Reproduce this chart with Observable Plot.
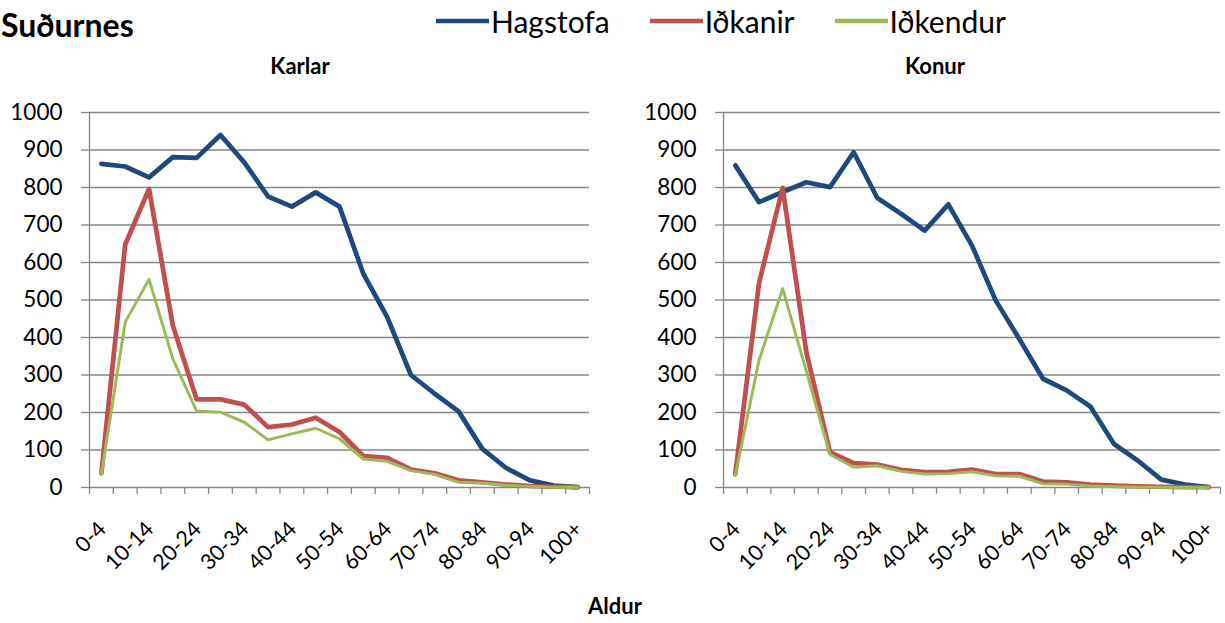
<!DOCTYPE html>
<html>
<head>
<meta charset="utf-8">
<script src="https://cdn.jsdelivr.net/npm/d3@7"></script>
<script src="https://cdn.jsdelivr.net/npm/@observablehq/plot@0.6"></script>
<style>
  html, body { margin: 0; padding: 0; background: #fff; }
  #root { position: relative; width: 1225px; height: 623px; font-family: Lato, "Open Sans", sans-serif; color: #000; overflow: hidden; }
  .abs { position: absolute; }
  .title { left: 1px; top: 5px; font-size: 32px; font-weight: bold; }
  .ptitle { top: 52px; font-size: 22px; font-weight: bold; transform: translateX(-50%); }
  .xlabel { top: 592px; left: 615px; transform: translateX(-50%); font-size: 22px; font-weight: bold; }
  .legend { top: 3px; left: 436px; display: flex; align-items: center; font-size: 30px; }
  .legend .item { display: flex; align-items: center; margin-right: 40px; }
  .legend svg { margin-right: 2px; }
</style>
</head>
<body>
<div id="root">
  <div class="abs title">Suðurnes</div>
  <div class="abs legend" id="legend"></div>
  <div class="abs ptitle" style="left:300px">Karlar</div>
  <div class="abs ptitle" style="left:935px">Konur</div>
  <div class="abs" id="left" style="left:0;top:90px"></div>
  <div class="abs" id="right" style="left:620px;top:90px"></div>
  <div class="abs xlabel">Aldur</div>
</div>
<script>
// Categories (age groups)
const ageGroups = ["0-4","5-9","10-14","15-19","20-24","25-29","30-34","35-39","40-44","45-49","50-54","55-59","60-64","65-69","70-74","75-79","80-84","85-89","90-94","95-99","100+"];
const seriesNames = ["Hagstofa", "Iðkanir", "Iðkendur"];
const seriesColors = ["#1F497D", "#C0504D", "#9BBB59"];
const seriesWidths = [4.75, 4.75, 3];
const yTicks = [0,100,200,300,400,500,600,700,800,900,1000];

// Karlar
const karlarHagstofa = [863,856,827,881,879,940,867,776,749,787,749,570,455,300,250,203,103,52,19,5,1];
const karlarIdkanir  = [38,648,796,432,235,235,221,161,168,186,148,84,79,48,38,19,14,8,4,2,1];
const karlarIdkendur = [36,441,555,343,204,201,174,127,143,158,130,76,70,45,35,14,12,6,3,1,1];

// Konur
const konurHagstofa = [859,761,788,814,801,894,772,730,685,755,645,499,396,290,259,216,116,72,21,8,1];
const konurIdkanir  = [36,545,799,361,94,65,61,47,41,42,48,36,36,16,14,8,5,3,2,1,1];
const konurIdkendur = [32,339,530,310,88,54,58,43,36,37,42,31,30,10,9,4,2,1,1,0,0];

// Legend
const legend = document.getElementById("legend");
seriesNames.forEach((name, k) => {
  const item = document.createElement("div");
  item.className = "item";
  item.innerHTML = `<svg width="53" height="10"><line x1="0" x2="53" y1="5" y2="5" stroke="${seriesColors[k]}" stroke-width="4.5"/></svg><span>${name}</span>`;
  legend.appendChild(item);
});

function panel(seriesValues, opts) {
  const rows = [];
  seriesValues.forEach((vals, k) => vals.forEach((v, i) => rows.push({s: seriesNames[k], k, i, v})));
  const bounds = ageGroups.map((_, i) => i - 0.5).concat([ageGroups.length - 0.5]);
  const labelIdx = ageGroups.map((_, i) => i).filter(i => i % 2 === 0);
  const grid = "#868686";
  return Plot.plot({
    width: opts.width,
    height: 480,
    marginLeft: opts.marginLeft,
    marginRight: opts.marginRight,
    marginTop: 22,
    marginBottom: 83,
    style: {fontFamily: "Lato, 'Open Sans', sans-serif", fontSize: "22px", color: "#000", background: "transparent", overflow: "visible"},
    x: {type: "linear", domain: [-0.5, ageGroups.length - 0.5], axis: null},
    y: {domain: [0, 1000], axis: null},
    marks: [
      Plot.gridY(yTicks, {stroke: grid, strokeOpacity: 1, strokeWidth: 1.3}),
      Plot.ruleX([-0.5], {stroke: grid, strokeWidth: 1.3}),
      Plot.axisY(yTicks, {tickSize: 8, tickPadding: 19, tickFormat: d => String(d), stroke: grid, strokeWidth: 1.3, fill: "#000", fontSize: 22.5, label: null}),
      Plot.axisX(bounds, {tickSize: 7, tickFormat: () => "", stroke: grid, strokeWidth: 1.3, label: null}),
      Plot.text(labelIdx, {x: d => d, text: d => ageGroups[d], frameAnchor: "bottom", rotate: -45, textAnchor: "end", lineAnchor: "middle", dy: 38, dx: 1, fontSize: 21.5, fill: "#000"}),
      ...seriesNames.map((name, k) => Plot.line(rows.filter(r => r.k === k), {x: "i", y: "v", stroke: seriesColors[k], strokeWidth: seriesWidths[k], strokeLinejoin: "round", strokeLinecap: "round"}))
    ]
  });
}

document.getElementById("left").appendChild(panel([karlarHagstofa, karlarIdkanir, karlarIdkendur], {width: 615, marginLeft: 89, marginRight: 26}));
document.getElementById("right").appendChild(panel([konurHagstofa, konurIdkanir, konurIdkendur], {width: 605, marginLeft: 103, marginRight: 5}));
</script>
</body>
</html>
